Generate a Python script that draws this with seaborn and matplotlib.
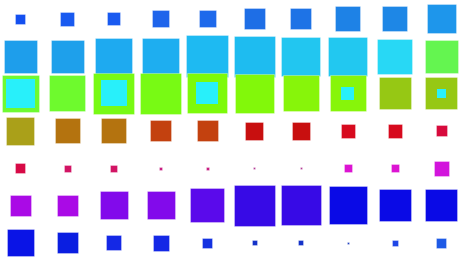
import numpy as np
import pandas as pd
import seaborn as sns
import matplotlib
matplotlib.use("Agg")
import matplotlib.pyplot as plt

# ---------------- data ----------------
columns = [f"C{j+1}" for j in range(10)]
rows = [f"R{i+1}" for i in range(7)]

# magnitude (marker side) for every cell, row by row
row1 = [10, 14, 13, 17, 17, 21, 21, 25, 25, 29]
row2 = [33, 33, 37, 37, 42, 41, 39, 39, 35, 33]
row3 = [37, 36, 41, 41, 40, 39, 36, 36, 32, 32]
row4 = [28, 25, 25, 21, 21, 18, 18, 14, 14, 11]
row5 = [10, 7, 7, 3, 3, 2, 2, 8, 8, 15]
row6 = [21, 21, 28, 28, 34, 41, 40, 38, 32, 32]
row7 = [27, 21, 15, 16, 10, 5, 5, 2, 6, 10]

# second (inner) series drawn on row 3
inner_row = "R3"
inner_cols = ["C1", "C3", "C5", "C8", "C10"]
inner_vals = [29, 26, 22, 13, 9]

# ---------------- styles ----------------
palette = [
    "#1450F0", "#195AF0", "#195AF0", "#1E64EB", "#1E69EB", "#1E6EE6", "#1E73E6", "#1E82E6", "#1E87E6", "#1E96EB",
    "#1E9EEB", "#1EA0EB", "#1EAAF0", "#1EAEF0", "#1EBAF2", "#1EBCF0", "#22C6F0", "#22C8F0", "#28D8F5", "#64F550",
    "#6EFA32", "#6EFA2D", "#78FA14", "#78FA14", "#7DFA0A", "#82F80A", "#87F50A", "#87F50A", "#96C814", "#96C814",
    "#AAA019", "#B4730F", "#B4730F", "#C3410F", "#C3410F", "#C80F0F", "#C80F0F", "#D70A1E", "#D70A1E", "#D70A3C",
    "#D70A46", "#D21464", "#D21464", "#C81E82", "#C81E82", "#B43C96", "#B43C96", "#DC14D2", "#DC14D2", "#D214DC",
    "#AA0AE6", "#AA0AE6", "#820AEB", "#820AEB", "#5A0AEB", "#370AE6", "#370AE6", "#0A0AE6", "#0A0AE6", "#0A0AE6",
    "#0A14E6", "#0A1EE1", "#1428E6", "#1428E6", "#1432E1", "#1432C8", "#1432C8", "#2040C0", "#1E46E6", "#1E5AE6",
]
inner_color = "#28F0FA"

DPI = 100
PX2PT = 72.0 / DPI
MAXV = 42
MAX_S = (MAXV * PX2PT) ** 2

# ---------------- frames ----------------
all_rows = [row1, row2, row3, row4, row5, row6, row7]
recs = []
for r, vals in zip(rows, all_rows):
    for c, v in zip(columns, vals):
        recs.append({"row": rows.index(r), "col": columns.index(c), "area": v ** 2,
                     "cell": f"{r}-{c}"})
df = pd.DataFrame(recs)

df_in = pd.DataFrame({
    "row": [rows.index(inner_row)] * len(inner_cols),
    "col": [columns.index(c) for c in inner_cols],
    "area": [v ** 2 for v in inner_vals],
})

# ---------------- plot ----------------
fig = plt.figure(figsize=(4.62, 2.60), dpi=DPI)
ax = fig.add_axes([0, 0, 1, 1])

sns.scatterplot(data=df, x="col", y="row", size="area", sizes=(0, MAX_S),
                size_norm=(0, MAXV ** 2), hue="cell", hue_order=list(df["cell"]),
                palette=palette, marker="s", edgecolor=(1, 1, 1, 0.45),
                linewidth=0.5, legend=False, ax=ax)
sns.scatterplot(data=df_in, x="col", y="row", size="area", sizes=(0, MAX_S),
                size_norm=(0, MAXV ** 2), color=inner_color, marker="s",
                linewidth=0, legend=False, ax=ax)

ax.set_xlim(-0.432, 9.442)
ax.set_ylim(6.466, -0.504)
ax.axis("off")
fig.savefig("out.png", dpi=DPI)
